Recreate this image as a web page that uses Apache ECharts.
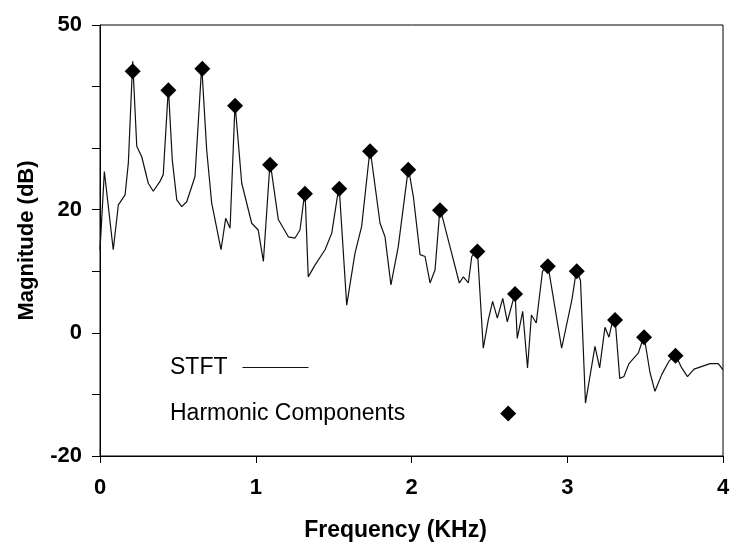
<!DOCTYPE html>
<html>
<head>
<meta charset="utf-8">
<script src="https://cdn.jsdelivr.net/npm/echarts@6/dist/echarts.min.js"></script>
<style>
  html, body { margin: 0; padding: 0; background: #fff; }
  #chart { width: 733px; height: 542px; }
</style>
</head>
<body>
<div id="chart"></div>
<script>
// STFT magnitude spectrum (KHz, dB)
var stftFreq = [0, 0.028, 0.085, 0.118, 0.161, 0.182, 0.210, 0.236, 0.268, 0.310, 0.342, 0.385, 0.406, 0.439, 0.464,
  0.493, 0.525, 0.557, 0.610, 0.653, 0.685, 0.717, 0.777, 0.807, 0.835, 0.867, 0.910, 0.974, 1.016, 1.049,
  1.092, 1.145, 1.209, 1.252, 1.284, 1.316, 1.337, 1.380, 1.445, 1.488, 1.535, 1.584, 1.637, 1.680, 1.734,
  1.798, 1.830, 1.868, 1.915, 1.980, 2.012, 2.055, 2.087, 2.119, 2.151, 2.183, 2.247, 2.307, 2.333, 2.365,
  2.387, 2.423, 2.461, 2.493, 2.521, 2.551, 2.586, 2.615, 2.665, 2.679, 2.714, 2.745, 2.770, 2.801, 2.841,
  2.876, 2.964, 3.030, 3.059, 3.085, 3.117, 3.178, 3.208, 3.242, 3.268, 3.285, 3.307, 3.337, 3.364, 3.396,
  3.456, 3.493, 3.531, 3.563, 3.608, 3.653, 3.695, 3.735, 3.772, 3.814, 3.917, 3.970, 4.0];
var stftMag = [13.5, 26.2, 13.5, 20.8, 22.4, 27.6, 44.1, 30.3, 28.6, 24.3, 23.0, 24.6, 25.7, 39.8, 28.1,
  21.6, 20.5, 21.3, 25.4, 43.4, 29.7, 21.1, 13.5, 18.6, 17.0, 37.2, 24.3, 17.8, 16.7, 11.6,
  27.8, 18.4, 15.6, 15.4, 16.7, 23.1, 9.1, 11.0, 13.5, 16.2, 23.9, 4.5, 12.9, 17.3, 29.9,
  17.8, 15.6, 7.8, 14.0, 26.8, 22.1, 12.7, 12.4, 8.1, 10.2, 20.3, 14.0, 8.1, 9.1, 8.1,
  12.4, 13.5, -2.5, 2.1, 5.1, 2.4, 5.6, 1.8, 6.5, -0.9, 3.5, -5.7, 2.9, 1.6, 10.0,
  11.0, -2.5, 5.4, 10.2, 8.5, -11.4, -2.2, -5.7, 0.9, -0.7, 1.3, 2.3, -7.4, -7.1, -5.0,
  -3.3, -0.5, -6.4, -9.5, -6.7, -4.6, -3.6, -5.7, -7.1, -5.9, -5.0, -5.0, -6.0];

// harmonic components
var harmFreq = [0.210, 0.439, 0.657, 0.867, 1.092, 1.316, 1.536, 1.734, 1.979, 2.183, 2.423, 2.665, 2.875, 3.061, 3.307, 3.493, 3.695];
var harmMag = [42.5, 39.4, 42.9, 36.9, 27.3, 22.6, 23.4, 29.5, 26.5, 19.9, 13.2, 6.3, 10.8, 10.0, 2.1, -0.7, -3.7];

// only these y values get a label
var yTickLabels = [-20, 0, 20, 50];

var font = 'Liberation Sans, Arial, Helvetica, sans-serif';
var txt = { color: '#000', fontFamily: font, fontSize: 22, fontWeight: 'bold' };
var legendTxt = { color: '#000', fontFamily: font, fontSize: 23 };

var chart = echarts.init(document.getElementById('chart'));

chart.setOption({
  animation: false,
  backgroundColor: '#fff',
  grid: {
    left: 100, right: 10, top: 25, bottom: 86,
    outerBoundsMode: 'none',
    containLabel: false,
    show: true, borderColor: '#000', borderWidth: 1
  },
  legend: [
    {
      // line sample drawn as a 1px bar to the right of the text
      data: [{ name: 'STFT', icon: 'rect', itemStyle: { color: '#111' } }],
      left: 165, top: 351,
      align: 'right',
      itemWidth: 66, itemHeight: 1,
      selectedMode: false,
      textStyle: Object.assign({ padding: [0, 10, 0, 0] }, legendTxt)
    },
    {
      data: ['Harmonic Components'],
      left: 165, top: 397,
      align: 'right',
      itemWidth: 16, itemHeight: 16,
      selectedMode: false,
      textStyle: Object.assign({ padding: [0, 90, 0, 0] }, legendTxt)
    }
  ],
  xAxis: {
    type: 'value',
    min: 0, max: 4, interval: 1,
    name: 'Frequency (KHz)',
    nameLocation: 'middle',
    nameGap: 63,
    nameTextStyle: Object.assign({}, txt, { fontSize: 23, padding: [0, 32, 0, 0] }),
    axisLine: { onZero: false, lineStyle: { color: '#000', width: 1 } },
    axisTick: { length: 7, lineStyle: { color: '#000' } },
    axisLabel: Object.assign({ margin: 21 }, txt),
    splitLine: { show: false }
  },
  yAxis: {
    type: 'value',
    min: -20, max: 50, interval: 10,
    name: 'Magnitude (dB)',
    nameLocation: 'middle',
    nameGap: 62,
    nameTextStyle: txt,
    axisLine: { show: true, lineStyle: { color: '#000', width: 1 } },
    axisTick: { show: true, length: 8, lineStyle: { color: '#000' } },
    axisLabel: Object.assign({
      margin: 18,
      formatter: function (v) { return yTickLabels.indexOf(v) >= 0 ? String(v) : ''; }
    }, txt),
    splitLine: { show: false }
  },
  series: [
    {
      name: 'STFT',
      type: 'line',
      symbol: 'none',
      lineStyle: { color: '#111', width: 1.2 },
      itemStyle: { color: '#111' },
      data: stftFreq.map(function (f, i) { return [f, stftMag[i]]; }),
      z: 2
    },
    {
      name: 'Harmonic Components',
      type: 'scatter',
      symbol: 'diamond',
      symbolSize: 16,
      itemStyle: { color: '#000', opacity: 1 },
      data: harmFreq.map(function (f, i) { return [f, harmMag[i]]; }),
      z: 3
    }
  ]
});
</script>
</body>
</html>
